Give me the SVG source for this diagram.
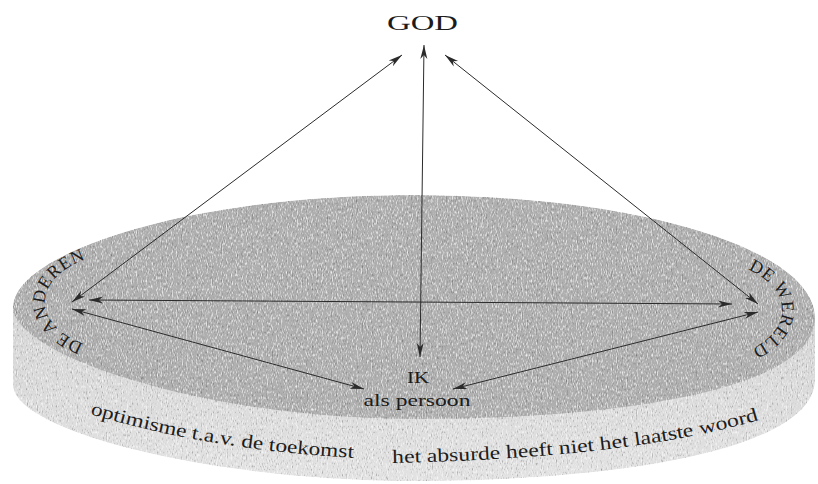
<svg xmlns="http://www.w3.org/2000/svg" width="818" height="484" viewBox="0 0 818 484">
<style>
  .lbl { font-family: "Liberation Serif", "Times New Roman", serif; fill: #1c1c1c; }
  .conn line { stroke: #2b2b2b; stroke-width: 1; fill: none; marker-start: url(#ah); marker-end: url(#ah); }
  .top { fill: #afafaf; }
  .side { fill: url(#sideGrad); }
</style>
<defs>
  <linearGradient id="sideGrad" x1="0" y1="0" x2="0" y2="1">
    <stop offset="0" stop-color="#d4d4d4"/>
    <stop offset="1" stop-color="#e2e2e2"/>
  </linearGradient>
  <filter id="grain" x="0" y="0" width="1" height="1">
    <feTurbulence type="fractalNoise" baseFrequency="1.2 0.35" numOctaves="1" seed="4" result="t"/>
    <feColorMatrix in="t" type="matrix" values="0 0 0 0 1  0 0 0 0 1  0 0 0 0 1  2.5 0 0 0 -1.3" result="w"/>
    <feColorMatrix in="t" type="matrix" values="0 0 0 0 0  0 0 0 0 0  0 0 0 0 0  -2.2 0 0 0 0.9" result="b"/>
    <feMerge result="m">
      <feMergeNode in="SourceGraphic"/>
      <feMergeNode in="w"/>
      <feMergeNode in="b"/>
    </feMerge>
    <feComposite in="m" in2="SourceAlpha" operator="in"/>
  </filter>
  <marker id="ah" markerUnits="userSpaceOnUse" viewBox="0 0 15 9" markerWidth="15" markerHeight="9" refX="14" refY="4.5" orient="auto-start-reverse">
    <path d="M0,1 L14,4.5 L0,8 L4,4.5 Z" fill="#2b2b2b"/>
  </marker>
  <path id="pAnd" d="M90.1,346.15 A85,50 0 0,1 92.74,257.06"/>
  <path id="pWer" d="M747.03,269.04 A82,50 0 0,1 750.49,349.4"/>
  <path id="pOpt" d="M90,414 Q212,450.6 358,458"/>
  <path id="pAbs" d="M392,463 Q631,458.2 762,419"/>
</defs>
<rect width="818" height="484" fill="#ffffff"/>
<g id="disc" filter="url(#grain)">
  <path class="side" d="M13,307 L13,385 C13,430 205,481 415,481 C640,481 815,445 815,380 L815,318 Z"/>
  <path class="top" d="M13,307 C13,255 182,195 412,195 C642,195 815,250 815,318 C815,385 640,419 415,419 C205,419 13,355 13,307 Z"/>
</g>
<g id="connectors" class="conn">
  <line x1="72" y1="302" x2="402" y2="55"/>
  <line x1="424" y1="45" x2="420" y2="357"/>
  <line x1="445" y1="55" x2="758" y2="304"/>
  <line x1="89" y1="300" x2="732" y2="304"/>
  <line x1="72" y1="309" x2="364" y2="389"/>
  <line x1="758" y1="312" x2="453" y2="389"/>
</g>
<g id="god">
  <text class="lbl" x="387" y="30" font-size="22" textLength="71" lengthAdjust="spacingAndGlyphs">GOD</text>
</g>
<g id="ik">
  <text class="lbl" x="418" y="383" font-size="17" text-anchor="middle" textLength="22" lengthAdjust="spacingAndGlyphs">IK</text>
  <text class="lbl" x="417" y="406" font-size="17" text-anchor="middle" textLength="107" lengthAdjust="spacingAndGlyphs">als persoon</text>
</g>
<g id="de-anderen">
  <text class="lbl" font-size="18" letter-spacing="1"><textPath href="#pAnd" startOffset="50%" text-anchor="middle">DE ANDEREN</textPath></text>
</g>
<g id="de-wereld">
  <text class="lbl" font-size="18" letter-spacing="0.5"><textPath href="#pWer" startOffset="50%" text-anchor="middle">DE WERELD</textPath></text>
</g>
<g id="optimisme">
  <text class="lbl" font-size="19"><textPath href="#pOpt" textLength="268" lengthAdjust="spacingAndGlyphs">optimisme t.a.v. de toekomst</textPath></text>
</g>
<g id="absurde">
  <text class="lbl" font-size="19"><textPath href="#pAbs" textLength="370" lengthAdjust="spacingAndGlyphs">het absurde heeft niet het laatste woord</textPath></text>
</g>
</svg>
